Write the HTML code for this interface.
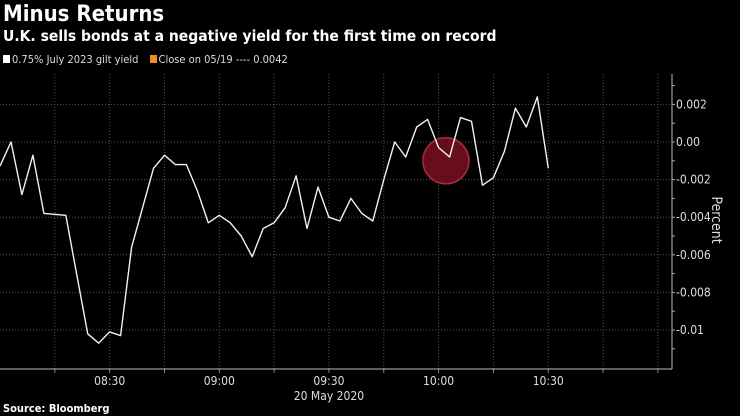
<!DOCTYPE html>
<html><head><meta charset="utf-8"><style>
html,body{margin:0;padding:0;background:#000;}
body{width:740px;height:416px;overflow:hidden;position:relative;font-family:"DejaVu Sans Condensed","DejaVu Sans","Liberation Sans",sans-serif;color:#fff;}
.t{position:absolute;left:3px;white-space:nowrap;font-weight:bold;}
</style></head><body>
<div class="t" style="top:2px;font-size:22px;">Minus Returns</div>
<div class="t" style="top:27px;font-size:15.5px;">U.K. sells bonds at a negative yield for the first time on record</div>
<div style="position:absolute;left:3px;top:53px;font-size:11px;color:#ddd;white-space:nowrap;">
<span><span style="display:inline-block;width:7px;height:8px;background:#fff;margin-right:2px;"></span>0.75% July 2023 gilt yield</span>
<span style="margin-left:8px;"><span style="display:inline-block;width:7px;height:8px;background:#f08c1a;margin-right:2px;"></span>Close on 05/19 ---- 0.0042</span>
</div>
<svg id="chart" width="740" height="416" style="position:absolute;left:0;top:0;"></svg>
<div class="t" style="top:402px;font-size:11px;">Source: Bloomberg</div>
<script>
const minutes=[0,3,6,9,12,18,24,27,30,33,36,42,45,48,51,54,57,60,63,66,69,72,75,78,81,84,87,90,93,96,99,102,105,108,111,114,117,120,123,126,129,132,135,138,141,144,147,150];
const values=[-0.00128,0,-0.0028,-0.0007,-0.0038,-0.0039,-0.0102,-0.0107,-0.0101,-0.0103,-0.0056,-0.0014,-0.0007,-0.0012,-0.0012,-0.0026,-0.0043,-0.0039,-0.0043,-0.0050,-0.0061,-0.0046,-0.0043,-0.0035,-0.0018,-0.0046,-0.0024,-0.0040,-0.0042,-0.0030,-0.0038,-0.0042,-0.0020,0,-0.0008,0.0008,0.0012,-0.0003,-0.0008,0.0013,0.0011,-0.0023,-0.0019,-0.0005,0.0018,0.0008,0.0024,-0.0014];
const yTicks=[0.002,0,-0.002,-0.004,-0.006,-0.008,-0.01];
const yTickLabels=["0.002","0.00","-0.002","-0.004","-0.006","-0.008","-0.01"];
const xTicks=[30,60,90,120,150];
const xTickLabels=["08:30","09:00","09:30","10:00","10:30"];
const highlight={minute:122,value:-0.001};
const NS="http://www.w3.org/2000/svg";
const svg=document.getElementById('chart');
const X=m=>m*3.655;
const Y=v=>142-v*18800;
const axR=672,axB=369,axT=74;
function el(t,a){const e=document.createElementNS(NS,t);for(const k in a)e.setAttribute(k,a[k]);svg.appendChild(e);return e;}
for(let m=15;m<=180;m+=15){const g=el('line',{x1:X(m),x2:X(m),y1:axT,y2:axB,stroke:'#555','stroke-width':1,'stroke-dasharray':'1,2'});

const tk=el('line',{x1:X(m),x2:X(m),y1:axB,y2:axB+4,stroke:'#888'});
}
yTicks.forEach((v,i)=>{const g=el('line',{x1:0,x2:axR,y1:Y(v),y2:Y(v),stroke:'#555','stroke-dasharray':'1,2'});

const t=el('text',{x:axR+4,y:Y(v)+4,fill:'#ddd','font-size':12,'font-family':'"DejaVu Sans Condensed","Liberation Sans",sans-serif'});t.textContent=yTickLabels[i];
});
for(let v=0.003;v>=-0.0115;v-=0.001){const tk=el('line',{x1:axR,x2:axR+3,y1:Y(v),y2:Y(v),stroke:'#aaa'});
}
const ax=el('line',{x1:0,x2:axR,y1:axB,y2:axB,stroke:'#bbb'});
const ay=el('line',{x1:axR,x2:axR,y1:axT,y2:axB,stroke:'#bbb'});
xTicks.forEach((m,i)=>{const t=el('text',{x:X(m),y:385,fill:'#ddd','font-size':12,'text-anchor':'middle','font-family':'"DejaVu Sans Condensed","Liberation Sans",sans-serif'});t.textContent=xTickLabels[i];
});
const d=el('text',{x:X(90),y:400,fill:'#ddd','font-size':12,'text-anchor':'middle','font-family':'"DejaVu Sans Condensed","Liberation Sans",sans-serif'});d.textContent='20 May 2020';

const yt=el('text',{x:712,y:220,fill:'#ddd','font-size':14,'text-anchor':'middle',transform:'rotate(90 712 220)','font-family':'"DejaVu Sans Condensed","Liberation Sans",sans-serif'});yt.textContent='Percent';

const c=el('ellipse',{cx:X(highlight.minute),cy:Y(highlight.value),rx:23,ry:23,fill:'#6d0f1c',stroke:'#b0303e','stroke-width':1.5,opacity:0.95});

const pts=values.map((v,i)=>X(minutes[i]).toFixed(1)+','+Y(v).toFixed(1)).join(' ');
const ln=el('polyline',{points:pts,fill:'none',stroke:'#f2f2f2','stroke-width':1.4,'stroke-linejoin':'round'});

</script>
</body></html>
